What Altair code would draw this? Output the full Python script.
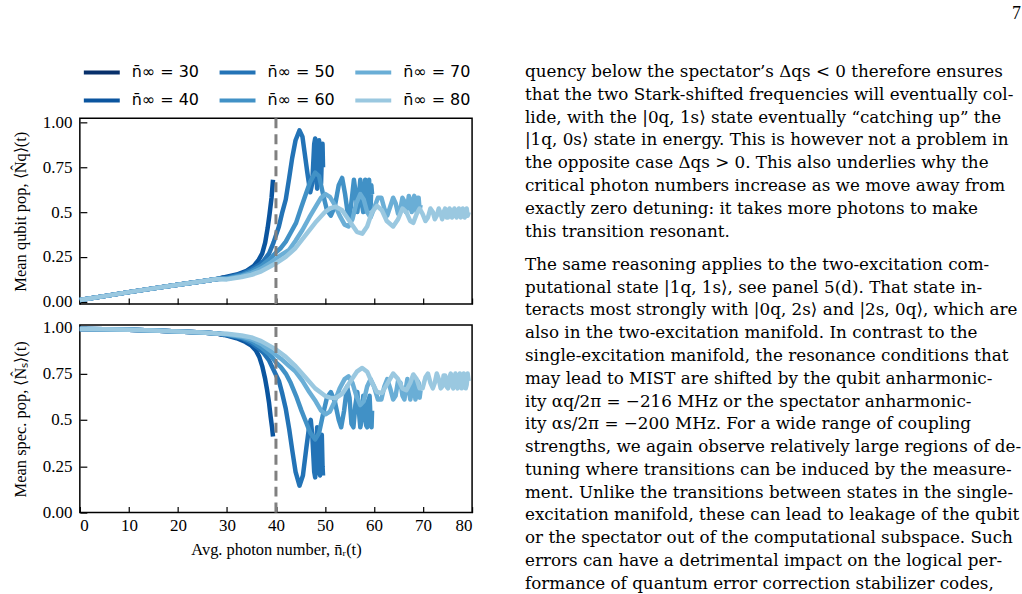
import altair as alt
import pandas as pd

# ---------------- data ----------------
N_VALUES = [30, 40, 50, 60, 70, 80]
COLORS = ["#08306b", "#0b559f", "#2373b6", "#4191c6", "#6aaed6", "#9ac8e0"]

X_TICKS = [0, 10, 20, 30, 40, 50, 60, 70, 80]
Y_TICKS = [0.0, 0.25, 0.5, 0.75, 1.0]
VLINE_X = [40]

BASE_X = [0, 5, 10, 15, 20, 25, 28]
BASE_Q = [0.010, 0.032, 0.054, 0.075, 0.095, 0.115, 0.127]
BASE_S = [0.990, 0.989, 0.986, 0.982, 0.977, 0.971, 0.966]

# qubit population tails
Q30_X = [29.4]
Q30_Y = [0.136]
Q40_X = [30, 32, 34, 35.5, 36.5, 37.2, 37.8, 38.3, 38.7, 39.1, 39.4]
Q40_Y = [0.140, 0.152, 0.172, 0.200, 0.235, 0.270, 0.330, 0.410, 0.490, 0.580, 0.680]
Q50_X = [30, 33, 35, 36.5, 37.5, 38.6, 39.5, 40.6, 41.3, 42.0,
         42.7, 43.3, 44.0, 44.8, 45.4, 45.8, 46.4, 47.0, 47.4, 47.8,
         48.0, 48.2, 48.4, 48.6, 48.8, 49.0, 49.2, 49.35, 49.5, 49.6]
Q50_Y = [0.135, 0.155, 0.180, 0.205, 0.230, 0.270, 0.330, 0.420, 0.500, 0.570,
         0.690, 0.800, 0.900, 0.955, 0.920, 0.840, 0.720, 0.610, 0.660, 0.880,
         0.910, 0.750, 0.630, 0.800, 0.900, 0.780, 0.660, 0.800, 0.880, 0.750]
Q60_X = [30, 33, 35, 37, 39, 40, 41, 42, 43, 44.1,
         45.2, 46.1, 47.0, 48.0, 48.8, 49.6, 50.4, 51.2, 52.0, 52.8,
         53.5, 54.1, 54.6, 55.0, 55.5, 55.9, 56.3, 56.6, 56.9, 57.2,
         57.5, 57.8, 58.0, 58.2, 58.4, 58.6, 58.8, 59.0, 59.15, 59.3,
         59.45, 59.6]
Q60_Y = [0.130, 0.148, 0.170, 0.200, 0.245, 0.275, 0.300, 0.335, 0.385, 0.440,
         0.530, 0.600, 0.670, 0.720, 0.700, 0.600, 0.510, 0.480, 0.530, 0.650,
         0.690, 0.600, 0.500, 0.470, 0.580, 0.680, 0.600, 0.500, 0.580, 0.680,
         0.550, 0.500, 0.620, 0.680, 0.560, 0.500, 0.630, 0.680, 0.550, 0.520,
         0.650, 0.600]
Q70_X = [30, 33, 35, 37, 39, 40, 41, 42.7, 44.0, 45.4,
         46.8, 48.1, 49.2, 50.1, 51.0, 52.0, 53.0, 54.0, 54.8, 55.6,
         56.4, 57.2, 57.9, 58.6, 59.3, 60.0, 60.8, 61.5, 62.1, 62.7,
         63.3, 63.9, 64.4, 64.9, 65.4, 65.8, 66.2, 66.5, 66.8, 67.1,
         67.4, 67.7, 67.95, 68.2, 68.45, 68.7, 68.9, 69.1, 69.3, 69.5]
Q70_Y = [0.128, 0.143, 0.160, 0.185, 0.220, 0.240, 0.260, 0.290, 0.340, 0.400,
         0.470, 0.530, 0.580, 0.600, 0.585, 0.540, 0.480, 0.430, 0.420, 0.460,
         0.550, 0.600, 0.570, 0.500, 0.470, 0.520, 0.580, 0.580, 0.520, 0.480,
         0.530, 0.580, 0.550, 0.490, 0.520, 0.580, 0.560, 0.500, 0.530, 0.590,
         0.530, 0.500, 0.570, 0.590, 0.520, 0.500, 0.580, 0.580, 0.510, 0.540]
Q80_X = [30, 33, 35, 37, 39, 40, 42, 44, 46, 48,
         50, 51, 52.2, 53.5, 55.0, 56.5, 57.6, 58.6, 59.6, 60.6,
         61.6, 62.6, 63.9, 64.9, 65.8, 66.6, 67.4, 68.0, 68.7, 69.3,
         69.9, 70.5, 71.0, 71.5, 72.0, 72.4, 72.8, 73.2, 73.6, 73.9,
         74.2, 74.5, 74.8, 75.1, 75.4, 75.65, 75.9, 76.15, 76.4, 76.6,
         76.85, 77.05, 77.3, 77.5, 77.7, 77.9, 78.1, 78.3, 78.5, 78.7,
         78.9, 79.1, 79.3]
Q80_Y = [0.125, 0.138, 0.150, 0.170, 0.200, 0.215, 0.250, 0.300, 0.370, 0.440,
         0.500, 0.520, 0.530, 0.510, 0.450, 0.390, 0.380, 0.420, 0.500, 0.535,
         0.510, 0.450, 0.420, 0.460, 0.520, 0.500, 0.450, 0.440, 0.490, 0.520,
         0.490, 0.450, 0.470, 0.520, 0.500, 0.460, 0.480, 0.520, 0.490, 0.460,
         0.500, 0.520, 0.470, 0.470, 0.520, 0.510, 0.470, 0.480, 0.520, 0.500,
         0.470, 0.490, 0.520, 0.490, 0.470, 0.500, 0.520, 0.480, 0.470, 0.510,
         0.520, 0.480, 0.500]

# spectator population tails
S30_X = [29.4]
S30_Y = [0.958]
S40_X = [30, 32, 33.8, 35, 35.9, 36.6, 37.2, 37.8, 38.2, 38.6, 38.9, 39.2, 39.4]
S40_Y = [0.955, 0.940, 0.920, 0.900, 0.875, 0.840, 0.790, 0.720, 0.660, 0.590, 0.520, 0.460, 0.410]
S50_X = [30, 33, 35, 36.5, 37.5, 38.6, 39.5, 40.6, 41.3, 42.0,
         42.7, 43.3, 44.0, 44.8, 45.5, 46.2, 46.8, 47.1, 47.4, 47.8,
         48.0, 48.2, 48.4, 48.6, 48.8, 49.0, 49.2, 49.35, 49.5, 49.6]
S50_Y = [0.958, 0.940, 0.915, 0.885, 0.860, 0.820, 0.770, 0.710, 0.640, 0.560,
         0.450, 0.340, 0.220, 0.145, 0.200, 0.350, 0.470, 0.500, 0.420, 0.220,
         0.190, 0.300, 0.460, 0.420, 0.220, 0.200, 0.380, 0.420, 0.250, 0.200]
S60_X = [30, 33, 35, 37, 39, 40, 41, 42, 43, 44.1,
         45.2, 46.1, 47.0, 48.0, 48.8, 49.6, 50.4, 51.2, 52.0, 52.8,
         53.3, 53.9, 54.5, 55.0, 55.4, 55.8, 56.2, 56.6, 56.9, 57.2,
         57.5, 57.8, 58.1, 58.4, 58.6, 58.9, 59.1, 59.3, 59.5, 59.6]
S60_Y = [0.960, 0.945, 0.925, 0.890, 0.845, 0.810, 0.785, 0.750, 0.700, 0.630,
         0.550, 0.490, 0.430, 0.395, 0.430, 0.530, 0.620, 0.650, 0.600, 0.500,
         0.460, 0.550, 0.680, 0.620, 0.480, 0.460, 0.580, 0.650, 0.550, 0.460,
         0.500, 0.630, 0.600, 0.470, 0.460, 0.600, 0.630, 0.500, 0.460, 0.550]
S70_X = [30, 33, 35, 37, 39, 40, 41, 42.7, 44.0, 45.4,
         46.8, 48.1, 49.2, 50.1, 51.0, 52.0, 53.0, 54.0, 54.8, 55.6,
         56.4, 57.2, 57.9, 58.6, 59.3, 60.0, 60.8, 61.5, 62.1, 62.7,
         63.3, 63.9, 64.4, 64.9, 65.4, 65.8, 66.2, 66.5, 66.8, 67.1,
         67.4, 67.7, 67.95, 68.2, 68.45, 68.7, 68.9, 69.1, 69.3, 69.5]
S70_Y = [0.962, 0.950, 0.935, 0.910, 0.870, 0.850, 0.830, 0.790, 0.760, 0.710,
         0.650, 0.600, 0.550, 0.530, 0.545, 0.600, 0.670, 0.720, 0.735, 0.700,
         0.630, 0.580, 0.600, 0.680, 0.720, 0.680, 0.610, 0.610, 0.680, 0.720,
         0.670, 0.610, 0.630, 0.710, 0.700, 0.630, 0.610, 0.670, 0.720, 0.660,
         0.610, 0.650, 0.720, 0.680, 0.610, 0.640, 0.710, 0.700, 0.620, 0.660]
S80_X = [30, 33, 35, 37, 39, 40, 42, 44, 46, 48,
         50, 51, 52.2, 53.5, 55.0, 56.5, 57.6, 58.6, 59.6, 60.6,
         61.6, 62.6, 63.9, 64.9, 65.8, 66.6, 67.4, 68.0, 68.7, 69.3,
         69.9, 70.5, 71.0, 71.5, 72.0, 72.4, 72.8, 73.2, 73.6, 73.9,
         74.2, 74.5, 74.8, 75.1, 75.4, 75.65, 75.9, 76.15, 76.4, 76.6,
         76.85, 77.05, 77.3, 77.5, 77.7, 77.9, 78.1, 78.3, 78.5, 78.7,
         78.9, 79.1, 79.3]
S80_Y = [0.965, 0.955, 0.945, 0.925, 0.895, 0.880, 0.840, 0.790, 0.730, 0.670,
         0.630, 0.620, 0.618, 0.640, 0.700, 0.760, 0.780, 0.760, 0.700, 0.650,
         0.645, 0.690, 0.750, 0.720, 0.670, 0.660, 0.700, 0.745, 0.720, 0.670,
         0.670, 0.730, 0.750, 0.700, 0.670, 0.700, 0.750, 0.720, 0.670, 0.680,
         0.740, 0.740, 0.680, 0.670, 0.730, 0.750, 0.690, 0.670, 0.720, 0.750,
         0.700, 0.670, 0.710, 0.750, 0.710, 0.670, 0.700, 0.750, 0.720, 0.670,
         0.690, 0.750, 0.710]

TEXT_P1 = [
    "quency below the spectator\u2019s \u0394qs < 0 therefore ensures",
    "that the two Stark-shifted frequencies will eventually col-",
    "lide, with the |0q, 1s\u27e9 state eventually \u201ccatching up\u201d the",
    "|1q, 0s\u27e9 state in energy. This is however not a problem in",
    "the opposite case \u0394qs > 0. This also underlies why the",
    "critical photon numbers increase as we move away from",
    "exactly zero detuning: it takes more photons to make",
    "this transition resonant.",
]
TEXT_P2 = [
    "\u2003The same reasoning applies to the two-excitation com-",
    "putational state |1q, 1s\u27e9, see panel 5(d). That state in-",
    "teracts most strongly with |0q, 2s\u27e9 and |2s, 0q\u27e9, which are",
    "also in the two-excitation manifold. In contrast to the",
    "single-excitation manifold, the resonance conditions that",
    "may lead to MIST are shifted by the qubit anharmonic-",
    "ity \u03b1q/2\u03c0 = \u2212216 MHz or the spectator anharmonic-",
    "ity \u03b1s/2\u03c0 = \u2212200 MHz. For a wide range of coupling",
    "strengths, we again observe relatively large regions of de-",
    "tuning where transitions can be induced by the measure-",
    "ment. Unlike the transitions between states in the single-",
    "excitation manifold, these can lead to leakage of the qubit",
    "or the spectator out of the computational subspace. Such",
    "errors can have a detrimental impact on the logical per-",
    "formance of quantum error correction stabilizer codes,",
]
PAGE_NUMBER = "7"

# ---------------- build tables ----------------
Q_TAILS = [(Q30_X, Q30_Y), (Q40_X, Q40_Y), (Q50_X, Q50_Y), (Q60_X, Q60_Y), (Q70_X, Q70_Y), (Q80_X, Q80_Y)]
S_TAILS = [(S30_X, S30_Y), (S40_X, S40_Y), (S50_X, S50_Y), (S60_X, S60_Y), (S70_X, S70_Y), (S80_X, S80_Y)]


def build(base_y, tails):
    rows = []
    for n, (tx, ty) in zip(N_VALUES, tails):
        xs = BASE_X + tx
        ys = base_y + ty
        for i, (a, b) in enumerate(zip(xs, ys)):
            rows.append({"n": n, "x": a, "y": b, "i": i})
    return pd.DataFrame(rows)


q_df = build(BASE_Q, Q_TAILS)
s_df = build(BASE_S, S_TAILS)
v_df = pd.DataFrame({"x": VLINE_X})

text_rows = []
for k, t in enumerate(TEXT_P1 + TEXT_P2):
    text_rows.append({"line": k, "text": t, "para": 1 if k < len(TEXT_P1) else 2})
t_df = pd.DataFrame(text_rows)

SERIF = "Liberation Serif"
BODY = "DejaVu Serif"
MATH = "DejaVu Sans"
LABEL_SIZE = 17
TITLE_SIZE = 16.5

color_scale = alt.Scale(domain=N_VALUES, range=COLORS)
y_label_expr = "datum.value == 0.5 ? '0.5' : format(datum.value, '.2f')"


def panel(df, ytitle, ydomain, height, bottom, legend):
    xs = alt.Scale(domain=[0, 80], nice=False, zero=False)
    ys = alt.Scale(domain=ydomain, nice=False, zero=False)
    if bottom:
        x_label_axis = alt.Axis(orient="bottom", values=X_TICKS, ticks=False, domain=False,
                                grid=False, labelPadding=5, format="d",
                                title="Avg. photon number, n\u0304\u1d63(t)", titlePadding=8)
    else:
        x_label_axis = alt.Axis(orient="bottom", values=X_TICKS, ticks=False, domain=False,
                                grid=False, labels=False, title=None)
    y_label_axis = alt.Axis(orient="left", values=Y_TICKS, ticks=False, domain=False, grid=False,
                            labelPadding=8, labelExpr=y_label_expr, title=ytitle, titlePadding=14)
    x_tick_axis = alt.Axis(orient="bottom", values=X_TICKS, offset=-6, tickSize=6, tickWidth=1.2,
                           tickColor="black", labels=False, domain=False, grid=False, title=None)
    y_tick_axis = alt.Axis(orient="left", values=Y_TICKS, offset=-7, tickSize=7, tickWidth=1.2,
                           tickColor="black", labels=False, domain=False, grid=False, title=None)

    lines = alt.Chart(df).mark_line(strokeWidth=4.5, strokeJoin="round").encode(
        x=alt.X("x:Q", scale=xs, axis=x_label_axis),
        y=alt.Y("y:Q", scale=ys, axis=y_label_axis),
        color=alt.Color("n:N", scale=color_scale, legend=legend),
        order=alt.Order("i:Q"),
    )
    vline = alt.Chart(v_df).mark_rule(color="#808080", strokeWidth=3, strokeDash=[10, 6]).encode(
        x=alt.X("x:Q", scale=xs, axis=x_tick_axis),
        y=alt.Y(datum=ydomain[0], scale=ys, axis=y_tick_axis),
        y2=alt.Y2(datum=ydomain[1]),
    )
    return alt.layer(lines, vline).resolve_axis(x="independent", y="independent").properties(
        width=393, height=height)


legend = alt.Legend(orient="none", legendX=2, legendY=-66, columns=3, title=None,
                    symbolType="stroke", symbolSize=1296, symbolStrokeWidth=4,
                    labelFont=MATH, labelFontSize=16, labelColor="black", labelOffset=10,
                    labelExpr="'n\u0304\u221e = ' + datum.label", gridAlign="all",
                    columnPadding=12, rowPadding=-9, padding=0)

top = panel(q_df, "Mean qubit pop, \u27e8N\u0302q\u27e9(t)", [-0.012, 1.022], 186, False, legend)
bottom = panel(s_df, "Mean spec. pop, \u27e8N\u0302\u209b\u27e9(t)", [0.0, 1.012], 188, True, None)

left = alt.vconcat(top, bottom, spacing=6).resolve_scale(color="independent")

text = alt.Chart(t_df).transform_calculate(
    row="datum.line + (datum.para == 2 ? 0.46 : 0)"
).mark_text(align="left", baseline="alphabetic", font=BODY, fontSize=16.8, color="black").encode(
    x=alt.value(0),
    y=alt.Y("row:Q", scale=alt.Scale(domain=[1.81, 22.88], reverse=True, nice=False, zero=False), axis=None),
    text="text:N",
).properties(
    width=490, height=481,
    view=alt.ViewBackground(stroke="transparent"),
    title=alt.TitleParams(PAGE_NUMBER, anchor="end", font=SERIF, fontSize=18, fontWeight="normal",
                          color="black", offset=41),
)

chart = alt.hconcat(left, text, spacing=50).properties(
    padding={"left": 11, "top": 3, "right": 0, "bottom": 0},
    background="white",
).configure_view(stroke="black", strokeWidth=1.5).configure_axis(
    labelFont=SERIF, labelFontSize=LABEL_SIZE, labelColor="black",
    titleFont=SERIF, titleFontSize=TITLE_SIZE, titleFontWeight="normal", titleColor="black",
)

chart.save("out.html", embed_options={"renderer": "svg", "actions": False})
